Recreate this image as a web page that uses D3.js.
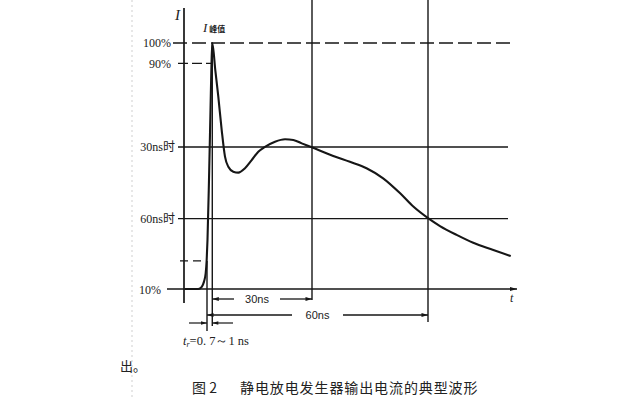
<!DOCTYPE html>
<html><head><meta charset="utf-8">
<script src="https://cdn.jsdelivr.net/npm/d3@7"></script>
<style>
html,body{margin:0;padding:0;background:#fff;}
svg{display:block;}
</style></head>
<body>
<svg id="c" width="640" height="400"></svg>
<script>
// ---- data ----
const curveT = [-6.3,-4.0,-2.5,-1.5,-0.86,-0.37,-0.09,0.14,0.57,1.0,1.29,1.51,2.37,3.23,4.2,5.14,6.09,7.51,8.94,10.86,12.77,14.66,16.57,19.43,22.29,24.66,27.06,29.91,35.5,39.8,44.1,48.4,52.8,56.2,60.1,63.1,67.4,71.7,76.9,81.4];
const curveI = [0,0,0,0.9,3.0,6.5,11.8,19.9,44.3,72.8,91.9,100,89.0,78.2,64.6,53.8,49.7,47.7,47.3,49.1,52.4,55.8,57.8,59.9,60.9,60.6,59.2,57.6,54.1,51.7,49.1,45.0,38.9,33.5,28.7,25.6,22.0,18.8,15.9,13.4];
const levelLabels = ["100%","90%","30ns时","60ns时","10%"];
const levelValues = [100, 91.7, 57.7, 28.6, 0];
const timeMarks = [0, 30, 60];          // ns
const timeLabels = ["30ns","60ns"];
const peakTime = 1.51;
const riseLabel = "t";
const riseText = "=0. 7～1 ns";
const caption = "静电放电发生器输出电流的典型波形";

const svg = d3.select("#c");
const x = d3.scaleLinear().domain(timeMarks).range([207,312,428]);
const y = d3.scaleLinear().domain([0,100]).range([289,43]);
const ink = "#161616";

// arrow markers
const defs = svg.append("defs");
function marker(id, d){
  defs.append("marker").attr("id",id).attr("viewBox","0 0 10 10").attr("refX",d==="r"?10:0).attr("refY",5)
    .attr("markerWidth",6).attr("markerHeight",5).attr("orient","0")
    .append("path").attr("d", d==="r" ? "M0,2 L10,5 L0,8 Z" : "M10,2 L0,5 L10,8 Z").attr("fill",ink);
}
marker("ar","r"); marker("al","l");

// scan border
svg.append("line").attr("x1",132).attr("x2",132).attr("y1",0).attr("y2",400)
  .attr("stroke","#cfcfcf").attr("stroke-width",1).attr("stroke-dasharray","2,3");

const g = svg.append("g").attr("stroke",ink).attr("fill","none");

// axes
g.append("line").attr("x1",184).attr("x2",184).attr("y1",8).attr("y2",303).attr("stroke-width",1.7);
g.append("line").attr("x1",167).attr("x2",517).attr("y1",y(0)).attr("y2",y(0)).attr("stroke-width",1.4).attr("marker-end","url(#ar)");

// horizontal reference lines
g.append("line").attr("x1",173).attr("x2",510).attr("y1",y(levelValues[0])).attr("y2",y(levelValues[0]))
  .attr("stroke-width",1.5).attr("stroke-dasharray","14,5");
g.append("line").attr("x1",178).attr("x2",x(peakTime)).attr("y1",y(levelValues[1])).attr("y2",y(levelValues[1]))
  .attr("stroke-width",1.3).attr("stroke-dasharray","10,4");
[levelValues[2], levelValues[3]].forEach(v=>{
  g.append("line").attr("x1",178).attr("x2",508).attr("y1",y(v)).attr("y2",y(v)).attr("stroke-width",1.4);
});
// 10% short dash
g.append("line").attr("x1",180).attr("x2",205).attr("y1",y(11.4)).attr("y2",y(11.4))
  .attr("stroke-width",1.3).attr("stroke-dasharray","8,5");

// vertical reference lines
g.append("line").attr("x1",x(30)).attr("x2",x(30)).attr("y1",0).attr("y2",300).attr("stroke-width",1.4);
g.append("line").attr("x1",x(60)).attr("x2",x(60)).attr("y1",0).attr("y2",322).attr("stroke-width",1.4);
g.append("line").attr("x1",x(peakTime)).attr("x2",x(peakTime)).attr("y1",y(100)).attr("y2",326).attr("stroke-width",1.4);
g.append("line").attr("x1",x(0)).attr("x2",x(0)).attr("y1",y(11.4)).attr("y2",331).attr("stroke-width",1.4);

// 30ns / 60ns dimension arrows
g.append("line").attr("x1",x(peakTime)).attr("x2",234).attr("y1",299).attr("y2",299).attr("stroke-width",1.3).attr("marker-start","url(#al)");
g.append("line").attr("x1",280).attr("x2",x(30)).attr("y1",299).attr("y2",299).attr("stroke-width",1.3).attr("marker-end","url(#ar)");
g.append("line").attr("x1",x(0)).attr("x2",292).attr("y1",315).attr("y2",315).attr("stroke-width",1.3).attr("marker-start","url(#al)");
g.append("line").attr("x1",343).attr("x2",x(60)).attr("y1",315).attr("y2",315).attr("stroke-width",1.3).attr("marker-end","url(#ar)");
// rise-time arrows
g.append("line").attr("x1",189).attr("x2",x(0)).attr("y1",323).attr("y2",323).attr("stroke-width",1.2).attr("marker-end","url(#ar)");
g.append("line").attr("x1",233).attr("x2",x(peakTime)).attr("y1",323).attr("y2",323).attr("stroke-width",1.2).attr("marker-end","url(#al)");

// waveform
const pts = curveT.map((t,i)=>[t,curveI[i]]);
g.append("path").datum(pts)
  .attr("d", d3.line().x(d=>x(d[0])).y(d=>y(d[1])).curve(d3.curveMonotoneX))
  .attr("stroke-width",2.1).attr("stroke-linejoin","round");

// level labels via axis
const ax = svg.append("g").attr("transform","translate(177,0)")
  .call(d3.axisLeft(y).tickValues(levelValues).tickSize(0).tickPadding(2)
    .tickFormat((d,i)=>levelLabels[i]));
ax.select(".domain").remove();
ax.selectAll("text").attr("font-family","'Liberation Serif','DejaVu Serif','Noto Sans CJK SC',serif")
  .attr("font-size",12).attr("fill","#222");
ax.selectAll(".tick").filter(d=>d===100||d===91.7).select("text").attr("dx",-4);
ax.selectAll(".tick").filter(d=>d===0).select("text").attr("dx",-14).attr("dy","0.4em");

const serif = "'Liberation Serif','DejaVu Serif',serif";
// axis titles
svg.append("text").attr("x",175).attr("y",20).attr("font-family",serif).attr("font-style","italic")
  .attr("font-size",15).attr("fill","#222").text("I");
const pk = svg.append("text").attr("x",203).attr("y",32).attr("font-family",serif).attr("fill","#222");
pk.append("tspan").attr("font-style","italic").attr("font-size",13).text("I");
pk.append("tspan").attr("font-family","'Noto Sans CJK SC',sans-serif").attr("font-size",8).attr("font-weight",700).attr("dx",2).text("峰值");
svg.append("text").attr("x",510).attr("y",302).attr("font-family",serif).attr("font-style","italic")
  .attr("font-size",12).attr("fill","#222").text("t");

// dimension labels
const dimFont = "'Liberation Sans','DejaVu Sans',sans-serif";
svg.append("text").attr("x",(234+280)/2).attr("y",303).attr("text-anchor","middle").attr("font-family",dimFont)
  .attr("font-size",11).attr("fill","#222").text(timeLabels[0]);
svg.append("text").attr("x",(292+343)/2).attr("y",319).attr("text-anchor","middle").attr("font-family",dimFont)
  .attr("font-size",11).attr("fill","#222").text(timeLabels[1]);
const rt = svg.append("text").attr("x",183).attr("y",345).attr("font-family",serif).attr("font-size",12.5).attr("fill","#222");
rt.append("tspan").attr("font-style","italic").text(riseLabel);
rt.append("tspan").attr("font-size",8).attr("dy",2).attr("font-style","italic").text("r");
rt.append("tspan").attr("dy",-2).text(riseText);

// page text
const cjk = "'Noto Sans CJK SC','Noto Sans CJK JP',sans-serif";
svg.append("text").attr("x",120).attr("y",371).attr("font-family",cjk).attr("font-size",13).attr("fill","#222").text("出。");
svg.append("text").attr("x",192).attr("y",393).attr("font-family",cjk).attr("font-size",14).attr("fill","#222").text("图 2");
svg.append("text").attr("x",240).attr("y",393).attr("font-family",cjk).attr("font-size",14).attr("letter-spacing",0.9)
  .attr("fill","#222").text(caption);
</script>
</body></html>
